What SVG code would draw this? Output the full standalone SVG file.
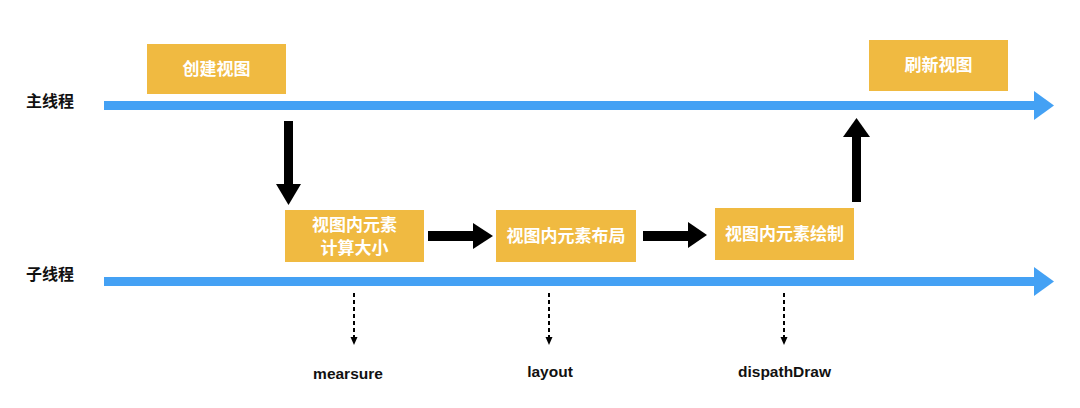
<svg xmlns="http://www.w3.org/2000/svg" width="1080" height="408" viewBox="0 0 1080 408">
<style>
.box{fill:#F0BA41;}
.bt{font-family:"Noto Sans CJK SC","Noto Sans",sans-serif;font-size:17px;font-weight:bold;fill:#FFFFFF;text-anchor:middle;}
.lbl{font-family:"Noto Sans CJK SC","Noto Sans",sans-serif;font-size:16px;font-weight:bold;fill:#111;}
.en{font-family:"Liberation Sans",Arial,sans-serif;font-size:15.5px;font-weight:bold;fill:#111;text-anchor:middle;}
.lane{fill:#44A1F4;}
.blk{fill:#000;}
.dash{stroke:#000;stroke-width:2;stroke-dasharray:4,3;fill:none;}
</style>
<rect width="1080" height="408" fill="#FFFFFF"/>
<g id="lanes">
<text class="lbl" x="26" y="107">主线程</text>
<rect class="lane" x="104" y="101" width="932" height="9"/>
<polygon class="lane" points="1034,91 1054,105.5 1034,120"/>
<text class="lbl" x="26" y="280">子线程</text>
<rect class="lane" x="104" y="277" width="932" height="9"/>
<polygon class="lane" points="1034,267 1054,281.5 1034,296"/>
</g>
<g id="n-create"><rect class="box" x="147" y="44" width="139" height="50"/><text class="bt" x="216.5" y="75">创建视图</text></g>
<g id="n-refresh"><rect class="box" x="869" y="40" width="139" height="51"/><text class="bt" x="938.5" y="71">刷新视图</text></g>
<g id="n-measure"><rect class="box" x="285" y="210" width="139" height="52"/><text class="bt" x="354.5" y="231">视图内元素</text><text class="bt" x="354.5" y="254">计算大小</text></g>
<g id="n-layout"><rect class="box" x="496" y="210" width="140" height="52"/><text class="bt" x="566" y="242">视图内元素布局</text></g>
<g id="n-draw"><rect class="box" x="715" y="208" width="139" height="52"/><text class="bt" x="784.5" y="240">视图内元素绘制</text></g>
<g id="connectors">
<rect class="blk" x="284" y="121" width="9" height="64"/>
<polygon class="blk" points="276,184 301,184 288.5,205"/>
<rect class="blk" x="428" y="231" width="46" height="10"/>
<polygon class="blk" points="473,223 493,236 473,249"/>
<rect class="blk" x="643" y="231" width="46" height="10"/>
<polygon class="blk" points="688,222 707,235 688,248"/>
<rect class="blk" x="852" y="136" width="9" height="66"/>
<polygon class="blk" points="843,137 856.5,118 870,137"/>
<line class="dash" x1="354" y1="293" x2="354" y2="337"/>
<polygon class="blk" points="350.5,337 357.5,337 354,345"/>
<line class="dash" x1="549" y1="293" x2="549" y2="337"/>
<polygon class="blk" points="545.5,337 552.5,337 549,345"/>
<line class="dash" x1="784" y1="293" x2="784" y2="337"/>
<polygon class="blk" points="780.5,337 787.5,337 784,345"/>
</g>
<g id="labels">
<text class="en" x="348" y="379">mearsure</text>
<text class="en" x="550" y="377">layout</text>
<text class="en" x="784.5" y="377">dispathDraw</text>
</g>
</svg>
